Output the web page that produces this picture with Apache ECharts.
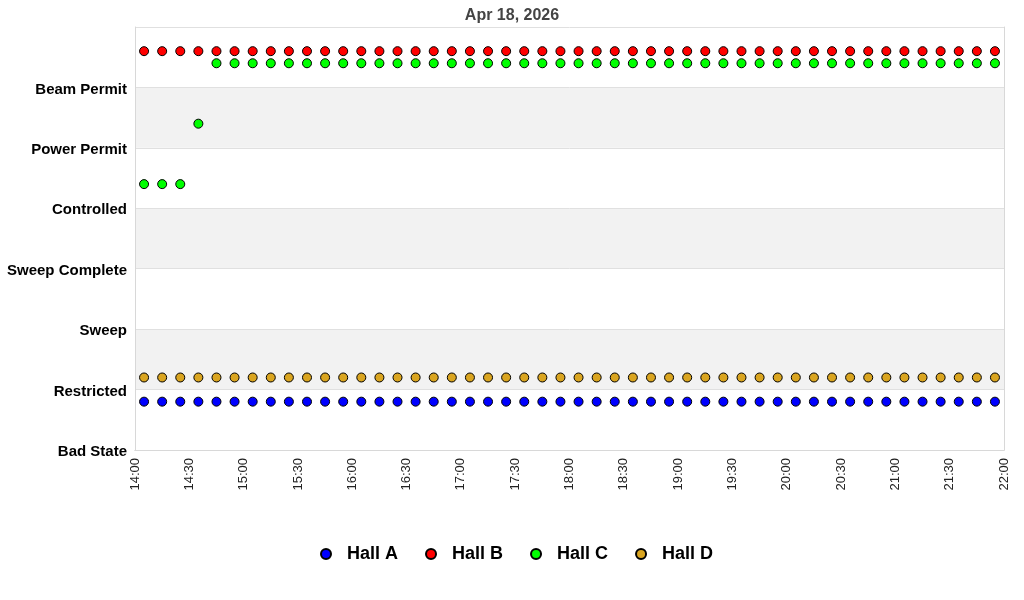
<!DOCTYPE html>
<html>
<head>
<meta charset="utf-8">
<script src="https://cdn.jsdelivr.net/npm/echarts@6/dist/echarts.min.js"></script>
<style>html,body{margin:0;padding:0;background:#fff}#c{width:1024px;height:600px}</style>
</head>
<body>
<div id="c"></div>
<script>
var titleText = 'Apr 18, 2026';
var stateLabels = ['Bad State','Restricted','Sweep','Sweep Complete','Controlled','Power Permit','Beam Permit'];
var times = ['14:05','14:15','14:25','14:35','14:45','14:55',
 '15:05','15:15','15:25','15:35','15:45','15:55',
 '16:05','16:15','16:25','16:35','16:45','16:55',
 '17:05','17:15','17:25','17:35','17:45','17:55',
 '18:05','18:15','18:25','18:35','18:45','18:55',
 '19:05','19:15','19:25','19:35','19:45','19:55',
 '20:05','20:15','20:25','20:35','20:45','20:55',
 '21:05','21:15','21:25','21:35','21:45','21:55'];
var hallA = [0.8,0.8,0.8,0.8,0.8,0.8, 0.8,0.8,0.8,0.8,0.8,0.8, 0.8,0.8,0.8,0.8,0.8,0.8, 0.8,0.8,0.8,0.8,0.8,0.8,
             0.8,0.8,0.8,0.8,0.8,0.8, 0.8,0.8,0.8,0.8,0.8,0.8, 0.8,0.8,0.8,0.8,0.8,0.8, 0.8,0.8,0.8,0.8,0.8,0.8];
var hallB = [6.6,6.6,6.6,6.6,6.6,6.6, 6.6,6.6,6.6,6.6,6.6,6.6, 6.6,6.6,6.6,6.6,6.6,6.6, 6.6,6.6,6.6,6.6,6.6,6.6,
             6.6,6.6,6.6,6.6,6.6,6.6, 6.6,6.6,6.6,6.6,6.6,6.6, 6.6,6.6,6.6,6.6,6.6,6.6, 6.6,6.6,6.6,6.6,6.6,6.6];
var hallC = [4.4,4.4,4.4,5.4,6.4,6.4, 6.4,6.4,6.4,6.4,6.4,6.4, 6.4,6.4,6.4,6.4,6.4,6.4, 6.4,6.4,6.4,6.4,6.4,6.4,
             6.4,6.4,6.4,6.4,6.4,6.4, 6.4,6.4,6.4,6.4,6.4,6.4, 6.4,6.4,6.4,6.4,6.4,6.4, 6.4,6.4,6.4,6.4,6.4,6.4];
var hallD = [1.2,1.2,1.2,1.2,1.2,1.2, 1.2,1.2,1.2,1.2,1.2,1.2, 1.2,1.2,1.2,1.2,1.2,1.2, 1.2,1.2,1.2,1.2,1.2,1.2,
             1.2,1.2,1.2,1.2,1.2,1.2, 1.2,1.2,1.2,1.2,1.2,1.2, 1.2,1.2,1.2,1.2,1.2,1.2, 1.2,1.2,1.2,1.2,1.2,1.2];
var seriesNames = ['Hall A','Hall B','Hall C','Hall D'];
var seriesColors = ['#0000ff','#ff0000','#00ff00','#daa520'];
var xMinLabel = '14:00', xMaxLabel = '22:00';

function toMin(s){var p=s.split(':');return (+p[0])*60+(+p[1]);}
function fmt(m){var h=Math.floor(m/60),mm=m%60;return (h<10?'0':'')+h+':'+(mm<10?'0':'')+mm;}
function pts(vals){return vals.map(function(v,i){return [toMin(times[i]),v];});}

var font = 'Arial, "Liberation Sans", Helvetica, sans-serif';
var allVals = [hallA,hallB,hallC,hallD];
var chart = echarts.init(document.getElementById('c'), null, {renderer:'canvas'});
chart.setOption({
  animation:false,
  backgroundColor:'#ffffff',
  title:{text:titleText,left:'center',top:3,textStyle:{fontFamily:font,fontSize:16,fontWeight:'bold',color:'#444'}},
  legend:{
    data:seriesNames, bottom:32, left:315, icon:'circle', itemWidth:10, itemHeight:10, itemGap:27,
    textStyle:{fontFamily:font,fontSize:18,fontWeight:'bold',color:'#000',padding:[0,0,0,11]}
  },
  grid:{left:135,right:20,top:27,bottom:150,containLabel:false},
  xAxis:[{
    type:'value', min:toMin(xMinLabel), max:toMin(xMaxLabel), interval:30,
    axisLine:{show:true,lineStyle:{color:'#d8d8d8'}},
    axisTick:{show:false},
    splitLine:{show:false},
    axisLabel:{rotate:90,margin:8,fontFamily:font,fontSize:13,color:'#222',formatter:function(v){return fmt(v);}}
  },{
    type:'value', position:'top', min:toMin(xMinLabel), max:toMin(xMaxLabel),
    axisLine:{show:true,lineStyle:{color:'#d8d8d8'}}, axisTick:{show:false}, axisLabel:{show:false}, splitLine:{show:false}
  }],
  yAxis:[{
    type:'value', min:0, max:7, interval:1,
    axisLine:{show:true,lineStyle:{color:'#d8d8d8'}},
    axisTick:{show:false},
    splitLine:{show:true,lineStyle:{color:'#e0e0e0'}},
    splitArea:{show:true,areaStyle:{color:['#ffffff','#f2f2f2']}},
    axisLabel:{margin:8,fontFamily:font,fontSize:15,fontWeight:'bold',color:'#000',
      formatter:function(v){return stateLabels[v]?'{s|'+stateLabels[v]+'}':'';},
      rich:{s:{fontFamily:font,fontSize:15,fontWeight:'bold',color:'#000',padding:[4,0,0,0]}}}
  },{
    type:'value', position:'right', min:0, max:7,
    axisLine:{show:true,lineStyle:{color:'#d8d8d8'}}, axisTick:{show:false}, axisLabel:{show:false}, splitLine:{show:false}
  }],
  series: seriesNames.map(function(n,i){
    return {name:n,type:'scatter',symbol:'circle',symbolSize:9,
      itemStyle:{color:seriesColors[i],borderColor:'#000',borderWidth:1,opacity:1},
      data:pts(allVals[i])};
  })
});
</script>
</body>
</html>
